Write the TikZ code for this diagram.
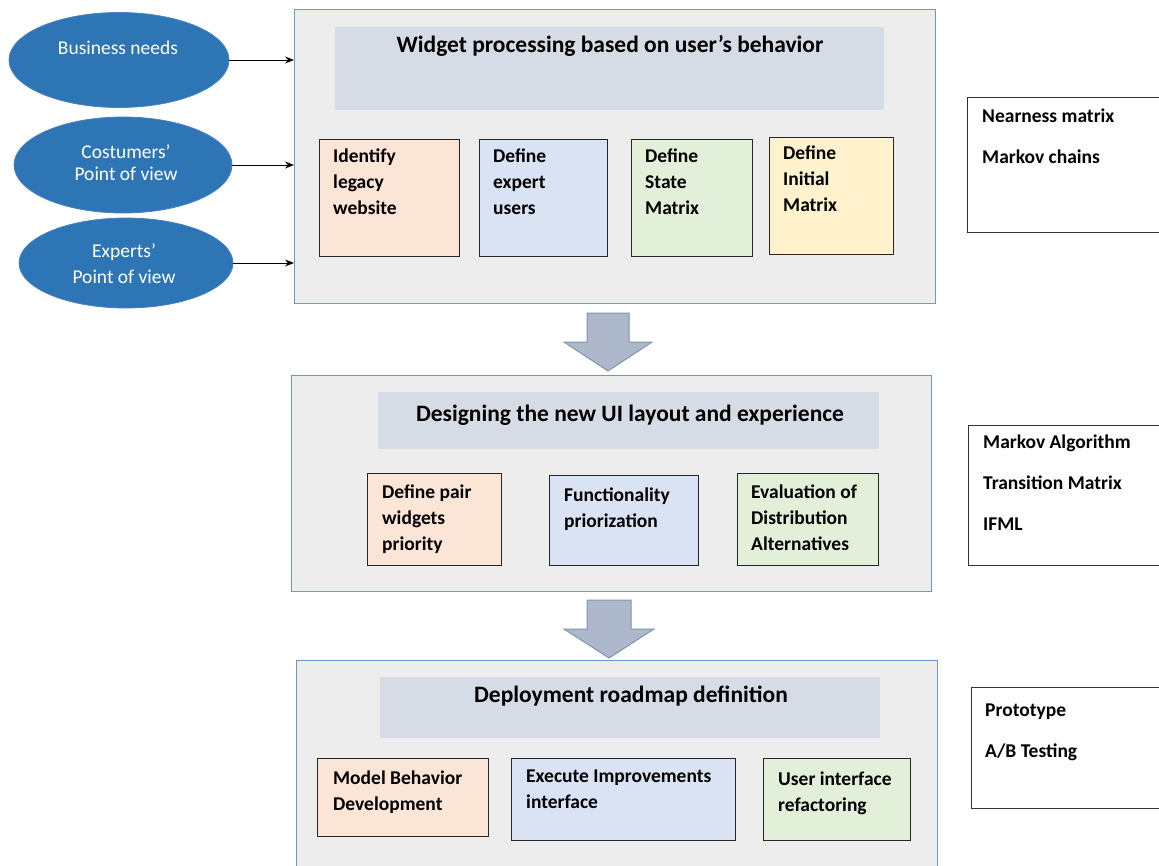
\documentclass[tikz,border=0pt]{standalone}
\usepackage{fontspec}
\setmainfont{Carlito}
\usetikzlibrary{arrows.meta,shapes.geometric,calc}

\definecolor{peach}{HTML}{FBE5D6}
\definecolor{paleblue}{HTML}{DAE3F3}
\definecolor{palegreen}{HTML}{E2F0D9}
\definecolor{paleyellow}{HTML}{FFF2CC}
\definecolor{panelfill}{HTML}{EDEDED}
\definecolor{panelline}{HTML}{7396C8}
\definecolor{bandfill}{HTML}{D6DCE5}
\definecolor{ovalfill}{HTML}{2E75B6}
\definecolor{ovalline}{HTML}{4A82C0}
\definecolor{bigarrowfill}{HTML}{ADB9CA}
\definecolor{bigarrowline}{HTML}{7F93B0}

\begin{document}
\begin{tikzpicture}[x=1pt,y=-1pt,
  panel/.style={draw=panelline,fill=panelfill,line width=1.3pt,anchor=north west,inner sep=0pt},
  band/.style={fill=bandfill,anchor=north west,inner sep=0pt},
  title/.style={font=\fontsize{23.5}{28}\selectfont\bfseries,anchor=base,inner sep=0pt},
  task/.style={draw=black!85,line width=1.1pt,anchor=north west,inner sep=0pt},
  tasktext/.style={font=\fontsize{19.5}{26}\selectfont\bfseries,align=left,anchor=base west,inner sep=0pt},
  toolbox/.style={draw=black!80,line width=1.1pt,fill=white,anchor=north west,inner sep=0pt},
  tooltext/.style={font=\fontsize{19.5}{41}\selectfont\bfseries,align=left,anchor=base west,inner sep=0pt},
  oval/.style={ellipse,draw=ovalline,fill=ovalfill,line width=0.8pt,inner sep=0pt},
  ovaltext/.style={font=\fontsize{19.5}{22}\selectfont,text=white,align=center,anchor=base,inner sep=0pt},
  feed/.style={-{Stealth[length=9pt,width=7pt]},line width=1pt,black},
  bigarrow/.style={draw=bigarrowline,fill=bigarrowfill,line width=1pt,line join=miter}
]
\useasboundingbox (0,0) rectangle (1159,865);

% ---------- input ovals ----------
\node[oval,minimum width=220,minimum height=95] (bn) at (119,60) {};
\node[ovaltext] (bnt) at (118,54) {Business needs};
\node[oval,minimum width=218,minimum height=96] (cp) at (123,165) {};
\node[ovaltext] (cpt) at (126,180) {Costumers'\\Point of view};
\node[oval,minimum width=214,minimum height=90] (ep) at (126,263) {};
\node[ovaltext] (ept) at (124,283) {Experts'\\[4pt]Point of view};

% ---------- stage 1 ----------
\node[panel,minimum width=641,minimum height=294] (p1) at (294,9) {};
\node[band,minimum width=549,minimum height=83] (p1band) at (335,27) {};
\node[title] (p1t) at (610,52) {Widget processing based on user’s behavior};

\node[task,fill=peach,minimum width=140,minimum height=117] (t11) at (319,139) {};
\node[tasktext] at ($(t11.north west)+(14,75)$) {Identify\\legacy\\website};
\node[task,fill=paleblue,minimum width=128,minimum height=117] (t12) at (479,139) {};
\node[tasktext] at ($(t12.north west)+(14,75)$) {Define\\expert\\users};
\node[task,fill=palegreen,minimum width=121,minimum height=117] (t13) at (631,139) {};
\node[tasktext] at ($(t13.north west)+(14,75)$) {Define\\State\\Matrix};
\node[task,fill=paleyellow,minimum width=124,minimum height=117] (t14) at (769,137) {};
\node[tasktext] at ($(t14.north west)+(14,74)$) {Define\\Initial\\Matrix};

\draw[feed] (bn.east) -- (bn.east -| p1.west);
\draw[feed] (cp.east) -- (cp.east -| p1.west);
\draw[feed] (ep.east) -- (ep.east -| p1.west);

% ---------- stage 2 ----------
\node[panel,minimum width=640,minimum height=216] (p2) at (291,375) {};
\node[band,minimum width=501,minimum height=57] (p2band) at (378,392) {};
\node[title] (p2t) at (630,421) {Designing the new UI layout and experience};

\node[task,fill=peach,minimum width=134,minimum height=92] (t21) at (367,473) {};
\node[tasktext] at ($(t21.north west)+(15,77)$) {Define pair\\widgets\\priority};
\node[task,fill=paleblue,minimum width=149,minimum height=90] (t22) at (549,475) {};
\node[tasktext] at ($(t22.north west)+(15,52)$) {Functionality\\priorization};
\node[task,fill=palegreen,minimum width=141,minimum height=92] (t23) at (737,473) {};
\node[tasktext] at ($(t23.north west)+(14,77)$) {Evaluation of\\Distribution\\Alternatives};

% ---------- stage 3 ----------
\node[panel,minimum width=641,minimum height=215] (p3) at (296,660) {};
\node[band,minimum width=500,minimum height=61] (p3band) at (380,677) {};
\node[title] (p3t) at (631,702) {Deployment roadmap definition};

\node[task,fill=peach,minimum width=171,minimum height=78] (t31) at (317,758) {};
\node[tasktext] at ($(t31.north west)+(16,52)$) {Model Behavior\\Development};
\node[task,fill=paleblue,minimum width=224,minimum height=82] (t32) at (511,758) {};
\node[tasktext] at ($(t32.north west)+(15,50)$) {Execute Improvements\\interface};
\node[task,fill=palegreen,minimum width=147,minimum height=82] (t33) at (763,758) {};
\node[tasktext] at ($(t33.north west)+(15,53)$) {User interface\\refactoring};

% ---------- stage transitions ----------
\coordinate (s1) at (608,313);
\coordinate (s1tip) at (608,371);
\draw[bigarrow] ($(s1)+(-21,0)$) -- ($(s1)+(21,0)$) -- ($(s1)+(21,29)$) -- ($(s1)+(44,29)$)
  -- (s1tip) -- ($(s1)+(-44,29)$) -- ($(s1)+(-21,29)$) -- cycle;
\coordinate (s2) at (609,600);
\coordinate (s2tip) at (609,658);
\draw[bigarrow] ($(s2)+(-22,0)$) -- ($(s2)+(22,0)$) -- ($(s2)+(22,29)$) -- ($(s2)+(45,29)$)
  -- (s2tip) -- ($(s2)+(-45,29)$) -- ($(s2)+(-22,29)$) -- cycle;

% ---------- techniques per stage ----------
\node[toolbox,minimum width=200,minimum height=135] (k1) at (967,97) {};
\node[tooltext] at ($(k1.north west)+(15,66)$) {Nearness matrix\\Markov chains};
\node[toolbox,minimum width=200,minimum height=140] (k2) at (968,425) {};
\node[tooltext] at ($(k2.north west)+(15,105)$) {Markov Algorithm\\Transition Matrix\\IFML};
\node[toolbox,minimum width=200,minimum height=121] (k3) at (971,687) {};
\node[tooltext] at ($(k3.north west)+(14,70)$) {Prototype\\A/B Testing};
\end{tikzpicture}
\end{document}
